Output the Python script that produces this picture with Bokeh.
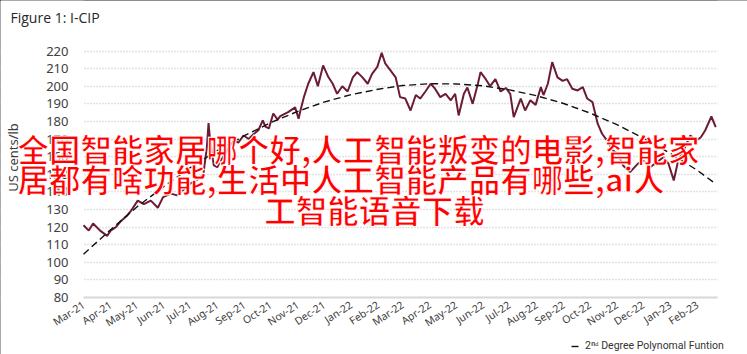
import numpy as np
import pandas as pd
from math import pi
from bokeh.plotting import figure
from bokeh.models import (Range1d, FixedTicker, DatetimeTickFormatter, Label, Legend,
                          LegendItem, BoxAnnotation)
from bokeh.embed import file_html
from bokeh.resources import INLINE

# ---------------- data ----------------
title_text = "Figure 1: I-CIP"
y_axis_title = "US cents/lb"
legend_label = "2ⁿᵈ Degree Polynomal Funtion"
overlay_lines = [
    "全国智能家居哪个好,人工智能叛变的电影,智能家",
    "居都有啥功能,生活中人工智能产品有哪些,ai人",
    "工智能语音下载",
]

price_dates = [
    "2021-03-01", "2021-03-07", "2021-03-12", "2021-03-20", "2021-03-28", "2021-04-01", "2021-04-07", "2021-04-12", "2021-04-20", "2021-04-24",
    "2021-05-02", "2021-05-09", "2021-05-17", "2021-05-25", "2021-05-31", "2021-06-09", "2021-06-16", "2021-06-23", "2021-07-01", "2021-07-09",
    "2021-07-16", "2021-07-20", "2021-07-22", "2021-07-24", "2021-07-28", "2021-08-01", "2021-08-05", "2021-08-08", "2021-08-14", "2021-08-20",
    "2021-08-25", "2021-08-31", "2021-09-06", "2021-09-11", "2021-09-17", "2021-09-22", "2021-09-25", "2021-09-29", "2021-10-04", "2021-10-09",
    "2021-10-12", "2021-10-21", "2021-10-29", "2021-11-02", "2021-11-04", "2021-11-08", "2021-11-13", "2021-11-19", "2021-11-24", "2021-11-30",
    "2021-12-06", "2021-12-11", "2021-12-16", "2021-12-22", "2021-12-28", "2022-01-03", "2022-01-08", "2022-01-14", "2022-01-20", "2022-01-25",
    "2022-01-31", "2022-02-05", "2022-02-09", "2022-02-15", "2022-02-21", "2022-02-26", "2022-03-04", "2022-03-10", "2022-03-16", "2022-03-21",
    "2022-03-27", "2022-04-02", "2022-04-07", "2022-04-13", "2022-04-19", "2022-04-25", "2022-04-30", "2022-05-04", "2022-05-10", "2022-05-14",
    "2022-05-20", "2022-05-26", "2022-05-29", "2022-06-04", "2022-06-09", "2022-06-15", "2022-06-21", "2022-06-27", "2022-07-02", "2022-07-06",
    "2022-07-14", "2022-07-19", "2022-07-25", "2022-07-31", "2022-08-06", "2022-08-09", "2022-08-14", "2022-08-19", "2022-08-25", "2022-08-31",
    "2022-09-05", "2022-09-11", "2022-09-17", "2022-09-23", "2022-09-28", "2022-10-04", "2022-10-10", "2022-10-15", "2022-10-21", "2022-10-27",
    "2022-11-02", "2022-11-08", "2022-11-16", "2022-11-25", "2022-12-01", "2022-12-09", "2022-12-17", "2022-12-24", "2022-12-30", "2023-01-05",
    "2023-01-10", "2023-01-16", "2023-01-24", "2023-01-30", "2023-02-05", "2023-02-10", "2023-02-17", "2023-02-22",
]
price_values = [
    121, 118, 122, 118, 115, 118, 120, 123, 126.6, 129,
    135, 133, 135, 131, 137, 139, 138, 141, 144.7, 147,
    150, 165, 179, 168, 155, 154, 158, 160, 165, 169,
    168, 172, 170, 172.6, 175, 180.6, 177, 176, 184.5, 181,
    183, 185.3, 188, 181.5, 186, 193.8, 201.4, 208, 200, 211.8,
    205.2, 201.4, 195.7, 200, 197, 205, 208, 205, 201.4, 207,
    211, 219, 213, 209, 205, 193.8, 193, 186.2, 195, 193,
    197, 201.4, 198.6, 193.8, 195.7, 192, 195.7, 183.4, 195.7, 199.3,
    190, 201.4, 208, 204, 200, 204, 197, 199, 195.7, 182.5,
    193, 186.2, 192, 189.4, 199.5, 195, 201.4, 213.7, 205, 203,
    204, 198.6, 197.6, 199.5, 193, 191, 178.7, 173, 169, 163.5,
    161.7, 155, 151.2, 156, 157.7, 154, 157, 159.7, 156, 146.5,
    157.7, 163.5, 172, 169, 171, 175, 182.8, 176.8,
]

trend_dates = [
    "2021-03-01", "2021-04-01", "2021-05-01", "2021-06-01", "2021-07-01", "2021-08-01", "2021-09-01", "2021-10-01",
    "2021-11-01", "2021-12-01", "2022-01-01", "2022-02-01", "2022-03-01", "2022-04-01", "2022-05-01", "2022-06-01",
    "2022-07-01", "2022-08-01", "2022-09-01", "2022-10-01", "2022-11-01", "2022-12-01", "2023-01-01", "2023-02-01",
    "2023-02-22",
]
trend_values = [
    104.6, 118.5, 131.4, 143.1, 153.8, 163.4, 171.9, 179.3,
    185.7, 191.0, 195.2, 198.3, 200.4, 201.4, 201.3, 200.2,
    197.9, 194.6, 190.2, 184.8, 178.2, 170.6, 161.9, 152.2,
    144.5,
]

y_ticks = [80, 90, 100, 110, 120, 130, 140, 150, 160, 170, 180, 190, 200, 210, 220]
x_tick_months = pd.date_range("2021-03-01", "2023-02-01", freq="MS")
axis_start = pd.Timestamp("2021-03-01")
axis_end = pd.Timestamp("2023-02-24")

# ---------------- layout (canvas pixels) ----------------
W, H = 747, 354
AX_L, AX_R = 83, 717        # canvas x of axis start / end
Y80, Y220 = 297, 50.5       # canvas y of 80 and 220

def ms(t):
    return pd.Timestamp(t).value / 1e6

t0, t1 = ms(axis_start), ms(axis_end)
ppm = (AX_R - AX_L) / (t1 - t0)              # pixels per ms
x_start = t0 - AX_L / ppm
x_end = t0 + (W - AX_L) / ppm
ppu = (Y80 - Y220) / (220 - 80)              # pixels per value unit
y_start = 80 - (H - Y80) / ppu
y_end = 80 + Y80 / ppu

p = figure(
    width=W, height=H,
    x_axis_type="datetime",
    x_range=Range1d(x_start, x_end),
    y_range=Range1d(y_start, y_end),
    output_backend="svg", toolbar_location=None,
    min_border_left=0, min_border_right=0, min_border_top=0, min_border_bottom=0,
    background_fill_color="white", border_fill_color="white",
)
if p.title is not None:
    p.title.visible = False
p.outline_line_color = None
p.styles = {"outline": "2px solid #1a1a1a", "outline-offset": "-2px"}

# grid (dotted), trimmed to the axis span by white underlay boxes
p.xgrid.visible = False
p.ygrid.ticker = FixedTicker(ticks=y_ticks)
p.ygrid.grid_line_color = "#c4c4c4"
p.ygrid.grid_line_dash = "1 2"
p.ygrid.grid_line_width = 1.5
p.add_layout(BoxAnnotation(right=t0, fill_color="white", fill_alpha=1, line_color=None, level="underlay"))
p.add_layout(BoxAnnotation(left=t1, fill_color="white", fill_alpha=1, line_color=None, level="underlay"))

# y axis drawn at the start of the data
p.yaxis.fixed_location = t0
p.yaxis.ticker = FixedTicker(ticks=y_ticks)
p.yaxis.axis_line_color = None
p.yaxis.major_tick_line_color = None
p.yaxis.minor_tick_line_color = None
p.yaxis.major_tick_out = 0
p.yaxis.major_tick_in = 0
p.yaxis.major_label_standoff = 15
p.yaxis.major_label_text_font = "Noto Sans"
p.yaxis.major_label_text_font_size = "13px"
p.yaxis.major_label_text_color = "#404040"

# x axis drawn at 80
p.xaxis.fixed_location = 80
p.xaxis.bounds = (t0, t1)
p.xaxis.ticker = FixedTicker(ticks=[ms(t) for t in x_tick_months])
fmt = "%b-%y"
p.xaxis.formatter = DatetimeTickFormatter(
    milliseconds=fmt, seconds=fmt, minsec=fmt, minutes=fmt, hourmin=fmt, hours=fmt,
    days=fmt, months=fmt, years=fmt,
)
p.xaxis.axis_line_color = "#d9d9d9"
p.xaxis.axis_line_width = 2
p.xaxis.major_tick_line_color = None
p.xaxis.minor_tick_line_color = None
p.xaxis.major_tick_out = 0
p.xaxis.major_tick_in = 0
p.xaxis.major_label_standoff = 6
p.xaxis.major_label_orientation = 0.58
p.xaxis.major_label_text_font = "Noto Sans"
p.xaxis.major_label_text_font_size = "10.5px"
p.xaxis.major_label_text_color = "#404040"

# series
px = pd.to_datetime(price_dates)
tx = pd.to_datetime(trend_dates)
p.line(px, price_values, line_color="#6b1c33", line_width=2)
trend_r = p.line(tx, trend_values, line_color="#111111", line_width=1.4, line_dash="7 4")

# legend (bottom right)
legend = Legend(
    items=[LegendItem(label=legend_label, renderers=[trend_r])],
    location=(571, 2),
    orientation="horizontal",
    padding=0, margin=0, spacing=0,
    glyph_width=11, glyph_height=12, label_standoff=3,
    border_line_color=None, background_fill_alpha=0,
    label_text_font="Roboto", label_text_font_size="10.5px", label_text_color="#333333",
)
p.add_layout(legend, "center")

def sx(cx):
    return cx

def sy(cy):
    return H - cy

# title
p.add_layout(Label(
    x=sx(10), y=sy(17), x_units="screen", y_units="screen", text=title_text,
    text_font="Open Sans", text_font_size="14px", text_color="#262626",
    text_align="left", text_baseline="middle",
))

# y axis title
p.add_layout(Label(
    x=sx(12), y=sy(157), x_units="screen", y_units="screen", text=y_axis_title,
    angle=pi / 2, text_font="Noto Sans", text_font_size="13px", text_color="#404040",
    text_align="center", text_baseline="middle",
))

# overlay red text
has_outline = "text_outline_color" in Label.properties()
line_pos = [(17, 147, "left"), (17, 177, "left"), (374, 208, "center")]
for txt, (cx, cy, al) in zip(overlay_lines, line_pos):
    common = dict(
        x=sx(cx), y=sy(cy), x_units="screen", y_units="screen", text=txt,
        text_font="Noto Sans CJK SC", text_font_size="31.5px", text_font_style="bold",
        text_align=al, text_baseline="middle",
    )
    if has_outline:
        p.add_layout(Label(text_color="#ff0000", text_outline_color="white", **common))
    else:
        for dx, dy in [(-2, 0), (2, 0), (0, -2), (0, 2), (-1.5, -1.5), (1.5, 1.5), (-1.5, 1.5), (1.5, -1.5)]:
            p.add_layout(Label(text_color="white", x_offset=dx, y_offset=dy, **common))
        p.add_layout(Label(text_color="#ff0000", **common))

open("out.html", "w").write(file_html(p, INLINE))
